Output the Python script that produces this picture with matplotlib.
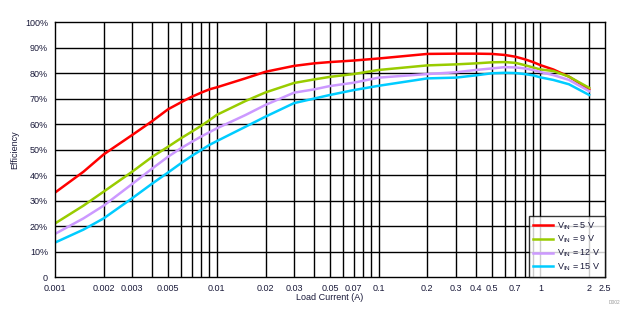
import numpy as np
import matplotlib.pyplot as plt
from matplotlib.ticker import FixedLocator, FixedFormatter, NullFormatter

plt.rcParams['font.family'] = ['Liberation Sans', 'DejaVu Sans']
plt.rcParams['mathtext.fontset'] = 'custom'
plt.rcParams['mathtext.rm'] = 'Liberation Sans'

# Load current (A) and efficiency (%) per input voltage
load = [0.001, 0.0015, 0.002, 0.003, 0.004, 0.005, 0.006, 0.007, 0.008, 0.009,
        0.01, 0.015, 0.02, 0.03, 0.04, 0.05, 0.07, 0.1, 0.2, 0.3, 0.4, 0.5,
        0.6, 0.7, 0.8, 0.9, 1.0, 1.2, 1.5, 2.0]
eff_5v = [33.1, 41.3, 48.1, 55.7, 61.2, 65.8, 68.5, 70.7, 72.3, 73.6,
          74.4, 77.9, 80.5, 82.8, 83.8, 84.3, 84.9, 85.7, 87.5, 87.6, 87.6, 87.5,
          87.1, 86.4, 85.4, 84.3, 83.1, 81.4, 78.6, 73.6]
eff_9v = [21.0, 28.0, 33.5, 41.3, 47.2, 51.1, 54.4, 57.0, 59.3, 61.5,
          63.6, 69.0, 72.4, 76.1, 77.5, 78.5, 79.6, 81.2, 83.0, 83.4, 83.8, 84.2,
          84.3, 84.0, 83.1, 82.2, 81.4, 80.8, 78.6, 74.2]
eff_12v = [16.9, 23.0, 28.0, 36.5, 42.6, 47.2, 50.5, 53.0, 55.1, 56.8,
           58.3, 63.5, 67.5, 72.3, 73.6, 74.9, 76.2, 78.2, 79.6, 80.3, 81.2, 81.8,
           82.3, 82.2, 81.8, 81.2, 80.4, 79.2, 77.3, 72.9]
eff_15v = [13.5, 18.6, 23.0, 30.9, 36.7, 41.0, 44.6, 47.5, 49.8, 51.8,
           53.3, 58.9, 62.9, 68.2, 70.0, 71.4, 73.3, 75.0, 77.9, 78.2, 79.1, 79.9,
           80.1, 80.0, 79.6, 79.1, 78.3, 77.3, 75.6, 71.4]

series = [
    (eff_5v, '#ff0000', r'V$_{\mathregular{IN}}$ = 5 V'),
    (eff_9v, '#99cc00', r'V$_{\mathregular{IN}}$ = 9 V'),
    (eff_12v, '#cc99ff', r'V$_{\mathregular{IN}}$ = 12 V'),
    (eff_15v, '#00ccff', r'V$_{\mathregular{IN}}$ = 15 V'),
]

xtick_vals = [0.001, 0.002, 0.003, 0.005, 0.01, 0.02, 0.03, 0.05, 0.07, 0.1,
              0.2, 0.3, 0.4, 0.5, 0.7, 1, 2, 2.5]
xtick_labels = ['0.001', '0.002', '0.003', '0.005', '0.01', '0.02', '0.03',
                '0.05', '0.07', '0.1', '0.2', '0.3', '0.4', '0.5', '0.7',
                '1', '2', '2.5']
ytick_vals = list(range(0, 101, 10))
ytick_labels = ['0'] + ['%d%%' % v for v in ytick_vals[1:]]

txt = '#1a1a3a'

fig = plt.figure(figsize=(6.32, 3.29), dpi=100)
ax = fig.add_axes([0.087, 0.158, 0.870, 0.775])

for eff, col, lab in series:
    ax.plot(load, eff, color=col, lw=1.8, label=lab, solid_joinstyle='round')

ax.set_xscale('log')
ax.set_xlim(0.001, 2.5)
ax.set_ylim(0, 100)

# vertical grid at 1..9 of every decade, up to 2 A
grid_x = [m * 10.0 ** d for d in range(-3, 0) for m in range(1, 10)] + [1, 2]
ax.xaxis.set_major_locator(FixedLocator(xtick_vals))
ax.xaxis.set_major_formatter(FixedFormatter(xtick_labels))
ax.xaxis.set_minor_locator(FixedLocator(grid_x))
ax.xaxis.set_minor_formatter(NullFormatter())
ax.set_yticks(ytick_vals)
ax.set_yticklabels(ytick_labels)

ax.grid(False)
for gx in grid_x[1:]:
    ax.axvline(gx, color='black', lw=1, zorder=0.5)
for gy in ytick_vals[1:-1]:
    ax.axhline(gy, color='black', lw=1, zorder=0.5)

ax.tick_params(which='both', length=0, labelsize=6.5, labelcolor=txt, pad=5)
for s in ax.spines.values():
    s.set_color('black')
    s.set_linewidth(1)

ax.set_xlabel('Load Current (A)', fontsize=6.5, color=txt, labelpad=0)
ax.set_ylabel('Efficiency', fontsize=6.5, color=txt, labelpad=4)

leg = ax.legend(loc='lower right', fontsize=6.5, frameon=True, fancybox=False,
                borderaxespad=0, handlelength=2.2, handletextpad=0.5,
                labelspacing=0.25, borderpad=0.45)
leg.get_frame().set_edgecolor('black')
leg.get_frame().set_linewidth(1)
for t in leg.get_texts():
    t.set_color(txt)

fig.text(0.981, 0.075, 'D002', fontsize=3.5, color='#999999', ha='right')

fig.savefig('out.png', dpi=100)
